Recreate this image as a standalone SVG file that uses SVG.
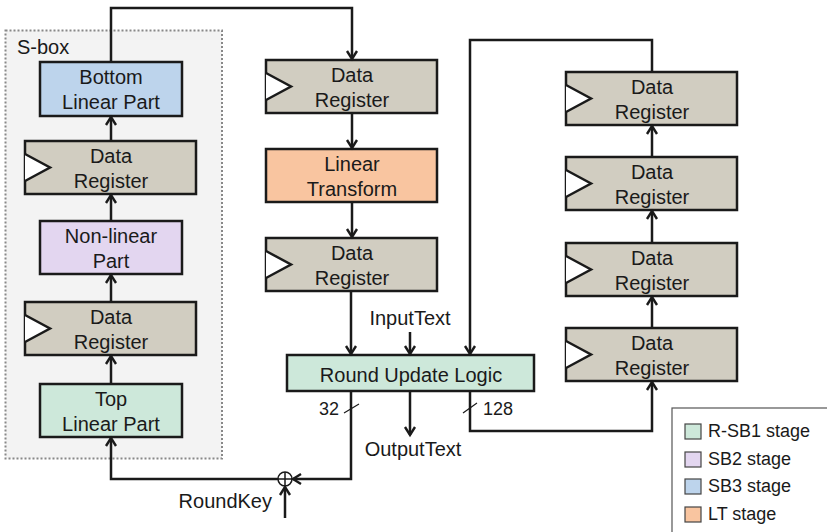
<svg xmlns="http://www.w3.org/2000/svg" width="827" height="532" viewBox="0 0 827 532">
  <defs>
    <marker id="arrow" markerUnits="userSpaceOnUse" markerWidth="14" markerHeight="14" viewBox="-10 -7 12 14" refX="0" refY="0" orient="auto">
      <path d="M-8,-5 L0,0 L-8,5" fill="none" stroke="#1a1a1a" stroke-width="2.4" stroke-linejoin="miter"/>
    </marker>
    <style>
      text { font-family: "Liberation Sans", Arial, sans-serif; fill: #1a1a1a; }
      .lbl { font-size: 20px; text-anchor: middle; }
      .box { stroke: #1a1a1a; stroke-width: 2.5; }
      .reg { fill: #d1cdc1; }
      .clk { fill: #ffffff; stroke: #1a1a1a; stroke-width: 2.5; }
      .blue { fill: #bdd4ec; }
      .purple { fill: #e3d6f0; }
      .green { fill: #cde8da; }
      .orange { fill: #f9c5a0; }
      .wire { fill: none; stroke: #1a1a1a; stroke-width: 2.5; }
      .arr { marker-end: url(#arrow); }
      .leg { font-size: 18px; }
      .sw { stroke: #444; stroke-width: 1.2; }
    </style>
  </defs>

  <!-- S-box container -->
  <g id="sbox">
    <rect x="5.5" y="30.5" width="216.5" height="428" fill="#f3f3f3" stroke="#888" stroke-width="2" stroke-dasharray="2 2"/>
    <text x="17" y="54" font-size="20">S-box</text>
  </g>

  <g id="bottom-linear">
    <rect class="box blue" x="40" y="62" width="142" height="54"/>
    <text class="lbl" x="111" y="84">Bottom</text>
    <text class="lbl" x="111" y="109">Linear Part</text>
  </g>

  <g id="sbox-reg-upper">
    <rect class="box reg" x="25" y="141" width="171" height="53"/>
    <path class="clk" d="M25,154 L50,167.5 L25,181"/>
    <text class="lbl" x="111" y="163">Data</text>
    <text class="lbl" x="111" y="188">Register</text>
  </g>

  <g id="nonlinear">
    <rect class="box purple" x="40" y="221" width="142" height="53"/>
    <text class="lbl" x="111" y="243">Non-linear</text>
    <text class="lbl" x="111" y="268">Part</text>
  </g>

  <g id="sbox-reg-lower">
    <rect class="box reg" x="25" y="302" width="171" height="53"/>
    <path class="clk" d="M25,315 L50,328.5 L25,342"/>
    <text class="lbl" x="111" y="324">Data</text>
    <text class="lbl" x="111" y="349">Register</text>
  </g>

  <g id="top-linear">
    <rect class="box green" x="40" y="384" width="142" height="53"/>
    <text class="lbl" x="111" y="406">Top</text>
    <text class="lbl" x="111" y="431">Linear Part</text>
  </g>

  <!-- centre column -->
  <g id="reg-a">
    <rect class="box reg" x="266" y="60" width="171" height="53"/>
    <path class="clk" d="M266,73 L291,86.5 L266,100"/>
    <text class="lbl" x="352" y="82">Data</text>
    <text class="lbl" x="352" y="107">Register</text>
  </g>

  <g id="linear-transform">
    <rect class="box orange" x="266" y="149" width="171" height="53"/>
    <text class="lbl" x="352" y="171">Linear</text>
    <text class="lbl" x="352" y="196">Transform</text>
  </g>

  <g id="reg-b">
    <rect class="box reg" x="266" y="238" width="171" height="53"/>
    <path class="clk" d="M266,251 L291,264.5 L266,278"/>
    <text class="lbl" x="352" y="260">Data</text>
    <text class="lbl" x="352" y="285">Register</text>
  </g>

  <g id="round-update">
    <rect class="box green" x="287" y="355" width="247" height="36"/>
    <text class="lbl" x="411" y="382" font-size="20.5">Round Update Logic</text>
  </g>

  <!-- right shift-register chain -->
  <g id="reg-r1">
    <rect class="box reg" x="566" y="72" width="171" height="53"/>
    <path class="clk" d="M566,85 L591,98.5 L566,112"/>
    <text class="lbl" x="652" y="94">Data</text>
    <text class="lbl" x="652" y="119">Register</text>
  </g>
  <g id="reg-r2">
    <rect class="box reg" x="566" y="157" width="171" height="53"/>
    <path class="clk" d="M566,170 L591,183.5 L566,197"/>
    <text class="lbl" x="652" y="179">Data</text>
    <text class="lbl" x="652" y="204">Register</text>
  </g>
  <g id="reg-r3">
    <rect class="box reg" x="566" y="243" width="171" height="53"/>
    <path class="clk" d="M566,256 L591,269.5 L566,283"/>
    <text class="lbl" x="652" y="265">Data</text>
    <text class="lbl" x="652" y="290">Register</text>
  </g>
  <g id="reg-r4">
    <rect class="box reg" x="566" y="328" width="171" height="53"/>
    <path class="clk" d="M566,341 L591,354.5 L566,368"/>
    <text class="lbl" x="652" y="350">Data</text>
    <text class="lbl" x="652" y="375">Register</text>
  </g>

  <g id="xor">
    <circle cx="285" cy="479" r="7" fill="#ffffff" stroke="#1a1a1a" stroke-width="1.5"/>
    <path d="M278,479 H292 M285,472 V486" stroke="#1a1a1a" stroke-width="1.5"/>
  </g>

  <!-- connectors -->
  <g id="connectors">
    <path class="wire arr" d="M111,62 V8 H352 V59"/>
    <path class="wire arr" d="M352,113 V148"/>
    <path class="wire arr" d="M352,202 V237"/>
    <path class="wire arr" d="M351,291 V354"/>
    <path class="wire arr" d="M410,332 V354"/>
    <path class="wire arr" d="M652,72 V40 H470 V354"/>
    <path class="wire arr" d="M351,391 V479 H293"/>
    <path class="wire arr" d="M410,391 V435"/>
    <path class="wire arr" d="M470,391 V431 H652 V382"/>
    <path class="wire arr" d="M652,328 V297"/>
    <path class="wire arr" d="M652,243 V211"/>
    <path class="wire arr" d="M652,157 V126"/>
    <path class="wire arr" d="M278,479 H111 V438"/>
    <path class="wire arr" d="M285,518 V487"/>
    <path class="wire arr" d="M111,384 V356"/>
    <path class="wire arr" d="M111,302 V275"/>
    <path class="wire arr" d="M111,221 V195"/>
    <path class="wire arr" d="M111,141 V117"/>
    <!-- bus-width ticks -->
    <path d="M344,413 L359,404 M463,413 L477,403" stroke="#1a1a1a" stroke-width="1.2"/>
  </g>

  <g id="labels">
    <text x="410" y="325" font-size="20" text-anchor="middle">InputText</text>
    <text x="413" y="456" font-size="20" text-anchor="middle">OutputText</text>
    <text x="272" y="508" font-size="20" text-anchor="end">RoundKey</text>
    <text x="339" y="415" font-size="18" text-anchor="end">32</text>
    <text x="483" y="415" font-size="18">128</text>
  </g>

  <g id="legend">
    <rect x="672" y="408" width="170" height="140" fill="#ffffff" stroke="#555" stroke-width="1.2"/>
    <rect class="sw green" x="685" y="424" width="16" height="15"/>
    <text class="leg" x="708" y="437">R-SB1 stage</text>
    <rect class="sw purple" x="685" y="452" width="16" height="15"/>
    <text class="leg" x="708" y="465">SB2 stage</text>
    <rect class="sw blue" x="685" y="479" width="16" height="15"/>
    <text class="leg" x="708" y="492">SB3 stage</text>
    <rect class="sw orange" x="685" y="507" width="16" height="15"/>
    <text class="leg" x="708" y="520">LT stage</text>
  </g>
</svg>
